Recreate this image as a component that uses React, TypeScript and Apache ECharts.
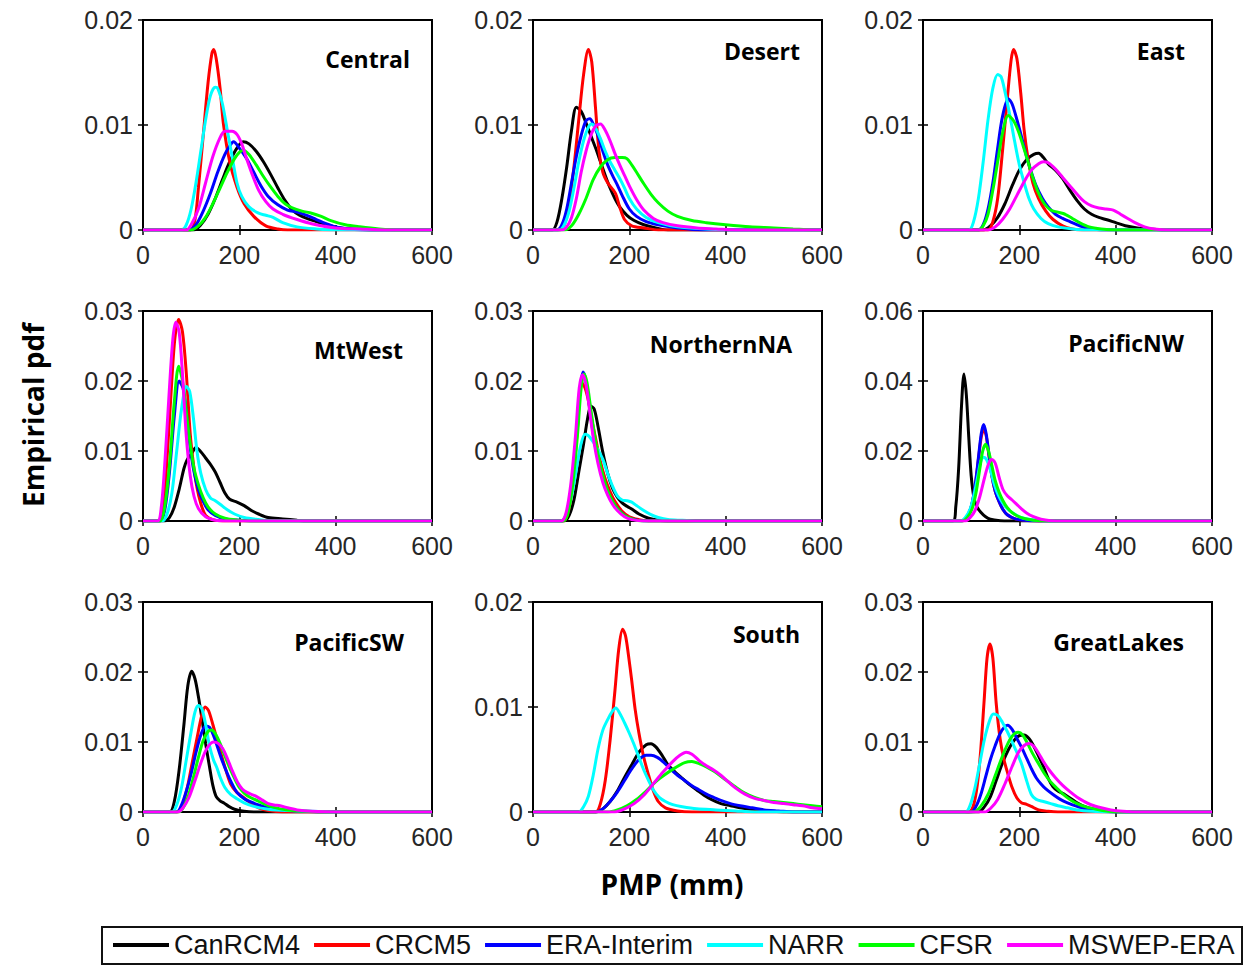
import React, { useEffect, useRef } from "react";
import * as echarts from "echarts";

type Pt = [number, number];

const MODELS = ["CanRCM4", "CRCM5", "ERA-Interim", "NARR", "CFSR", "MSWEP-ERA"];
const COLORS = ["#000000", "#ff0000", "#0000ff", "#00ffff", "#00ff00", "#ff00ff"];
const REGIONS = ["Central", "Desert", "East", "MtWest", "NorthernNA", "PacificNW", "PacificSW", "South", "GreatLakes"];
const Y_MAX = [0.02, 0.02, 0.02, 0.03, 0.03, 0.06, 0.03, 0.02, 0.03];
const Y_STEP = [0.01, 0.01, 0.01, 0.01, 0.01, 0.02, 0.01, 0.01, 0.01];
const X_MIN = 0;
const X_MAX = 600;
const X_STEP = 200;
const X_TITLE = "PMP (mm)";
const Y_TITLE = "Empirical pdf";

// Each region: curves in MODELS order [PMP (mm), pdf]
const central: Pt[][] = [
  [[105,0],[120,0.0005],[135,0.0015],[150,0.003],[165,0.0048],[180,0.0065],[195,0.0078],[208,0.0084],[220,0.0082],[235,0.0075],[250,0.0065],[265,0.0053],[280,0.004],[295,0.0028],[310,0.0019],[325,0.0014],[340,0.0011],[360,0.0008],[380,0.0005],[410,0.0002],[440,0.0001],[470,0]],
  [[98,0],[108,0.001],[115,0.004],[125,0.009],[135,0.014],[143,0.0168],[147,0.0172],[152,0.0163],[160,0.0135],[167,0.0101],[180,0.0065],[195,0.0041],[210,0.0025],[230,0.0013],[255,0.0004],[280,0.0001],[300,0]],
  [[95,0],[110,0.0005],[125,0.0018],[140,0.0035],[155,0.0055],[170,0.0072],[180,0.008],[188,0.0084],[200,0.0078],[215,0.0068],[230,0.0055],[245,0.0042],[260,0.0032],[280,0.0024],[300,0.0019],[320,0.0017],[340,0.0014],[360,0.001],[380,0.0006],[400,0.0003],[430,0.0001],[460,0]],
  [[80,0],[90,0.0005],[100,0.002],[110,0.0045],[120,0.0075],[130,0.0105],[140,0.0128],[150,0.0136],[155,0.0135],[165,0.012],[175,0.0095],[185,0.007],[195,0.0045],[205,0.0032],[220,0.0022],[240,0.0016],[255,0.0014],[270,0.0012],[290,0.0007],[320,0.0003],[360,0.0001],[400,0]],
  [[100,0],[115,0.0004],[130,0.0012],[145,0.0025],[160,0.004],[175,0.0055],[190,0.0068],[200,0.0074],[208,0.0076],[220,0.0072],[235,0.0062],[250,0.0051],[265,0.0041],[280,0.0032],[295,0.0025],[310,0.0021],[330,0.0018],[350,0.0016],[370,0.0013],[390,0.0009],[420,0.0005],[450,0.0003],[490,0.0001],[530,0]],
  [[90,0],[100,0.0005],[115,0.002],[130,0.0045],[145,0.007],[160,0.0088],[170,0.0094],[185,0.0094],[195,0.0091],[205,0.0082],[215,0.0068],[225,0.0055],[240,0.0038],[255,0.0027],[270,0.002],[290,0.0015],[320,0.001],[350,0.0006],[400,0.0002],[450,0.0001],[500,0]],
];

const desert: Pt[][] = [
  [[40,0],[50,0.0008],[60,0.003],[70,0.006],[80,0.0095],[90,0.0117],[100,0.0113],[110,0.0102],[120,0.009],[130,0.0078],[140,0.0065],[150,0.0052],[160,0.004],[170,0.003],[180,0.0022],[195,0.0014],[210,0.0009],[230,0.0005],[255,0.0002],[280,0]],
  [[55,0],[65,0.0005],[75,0.0025],[85,0.006],[95,0.0105],[105,0.0148],[115,0.0172],[122,0.016],[130,0.0115],[137,0.0075],[145,0.0055],[155,0.0045],[165,0.0039],[172,0.0034],[180,0.0022],[190,0.001],[205,0.0004],[230,0.0002],[260,0]],
  [[50,0],[60,0.0005],[70,0.002],[80,0.0045],[90,0.007],[100,0.009],[110,0.0104],[118,0.0106],[125,0.0101],[135,0.009],[145,0.0075],[155,0.0062],[165,0.0052],[175,0.0043],[185,0.0033],[200,0.002],[215,0.0013],[235,0.0008],[260,0.0005],[300,0.0002],[350,0]],
  [[55,0],[65,0.0005],[75,0.0018],[85,0.004],[95,0.0065],[105,0.0085],[115,0.0098],[122,0.0101],[130,0.0097],[140,0.0087],[150,0.0075],[160,0.0065],[170,0.0057],[180,0.0049],[190,0.004],[200,0.003],[215,0.002],[235,0.0012],[260,0.0007],[300,0.0003],[360,0.0001],[420,0]],
  [[65,0],[80,0.0004],[95,0.0015],[110,0.003],[125,0.0048],[140,0.006],[155,0.0067],[170,0.0069],[185,0.0069],[195,0.0068],[205,0.0062],[215,0.0055],[230,0.0044],[245,0.0034],[260,0.0026],[280,0.0018],[300,0.0013],[330,0.0009],[360,0.0007],[400,0.0005],[450,0.0003],[500,0.0002],[540,0.0001],[580,0]],
  [[60,0],[70,0.0003],[80,0.0012],[90,0.003],[100,0.0055],[110,0.0075],[120,0.009],[130,0.0099],[140,0.0101],[150,0.0095],[160,0.0085],[170,0.0073],[180,0.0062],[190,0.0052],[200,0.0042],[215,0.0029],[230,0.0019],[250,0.0011],[270,0.0007],[300,0.0004],[340,0.0002],[380,0.0001],[420,0]],
];

const east: Pt[][] = [
  [[125,0],[140,0.0004],[155,0.0012],[170,0.0025],[185,0.0042],[200,0.0057],[215,0.0067],[230,0.0072],[240,0.0073],[250,0.0069],[260,0.0063],[275,0.0057],[290,0.0049],[305,0.0038],[320,0.0028],[335,0.002],[350,0.0015],[365,0.0012],[380,0.001],[400,0.0007],[420,0.0004],[445,0.0002],[470,0.0001],[500,0]],
  [[135,0],[145,0.0008],[155,0.003],[165,0.0075],[175,0.0125],[183,0.0162],[188,0.0172],[195,0.0163],[203,0.013],[210,0.0095],[218,0.0068],[228,0.0045],[240,0.003],[255,0.0018],[270,0.001],[290,0.0004],[310,0.0001],[330,0]],
  [[115,0],[125,0.0005],[135,0.002],[145,0.0045],[155,0.0078],[165,0.0108],[177,0.0125],[185,0.012],[195,0.0105],[205,0.0088],[215,0.007],[225,0.0055],[235,0.0042],[248,0.003],[260,0.0022],[275,0.0015],[290,0.0011],[305,0.0008],[320,0.0005],[340,0.0002],[370,0]],
  [[95,0],[105,0.0008],[115,0.003],[125,0.0065],[135,0.0105],[145,0.0135],[155,0.0148],[162,0.0146],[170,0.0132],[180,0.011],[190,0.0085],[200,0.0062],[210,0.0045],[220,0.003],[230,0.002],[245,0.0011],[260,0.0006],[280,0.0003],[310,0.0001],[340,0]],
  [[115,0],[125,0.0004],[135,0.0015],[145,0.0038],[155,0.0065],[165,0.0092],[177,0.0109],[188,0.0104],[198,0.0094],[208,0.008],[218,0.0065],[228,0.005],[240,0.0035],[252,0.0025],[265,0.0019],[280,0.0017],[295,0.0015],[310,0.0011],[325,0.0007],[345,0.0003],[370,0.0001],[400,0]],
  [[135,0],[150,0.0003],[165,0.001],[180,0.002],[195,0.0033],[210,0.0046],[225,0.0057],[240,0.0063],[250,0.0065],[260,0.0064],[275,0.0058],[290,0.005],[305,0.0042],[320,0.0034],[335,0.0027],[350,0.0023],[365,0.0021],[380,0.002],[395,0.0019],[410,0.0015],[425,0.0011],[440,0.0007],[460,0.0003],[480,0.0001],[510,0]],
];

const mtWest: Pt[][] = [
  [[45,0],[55,0.0005],[65,0.002],[75,0.0045],[85,0.0075],[92,0.0088],[100,0.0095],[110,0.0105],[120,0.0099],[130,0.009],[140,0.0081],[150,0.007],[160,0.0055],[170,0.004],[180,0.0031],[195,0.0027],[210,0.0022],[225,0.0015],[240,0.001],[260,0.0005],[290,0.0003],[320,0.0001],[340,0]],
  [[35,0],[42,0.002],[50,0.009],[58,0.018],[66,0.026],[74,0.0288],[82,0.027],[90,0.021],[98,0.0125],[105,0.008],[112,0.0048],[120,0.0025],[130,0.0008],[145,0.0002],[165,0]],
  [[35,0],[45,0.0015],[55,0.007],[65,0.015],[75,0.02],[83,0.019],[90,0.0155],[98,0.0105],[106,0.007],[115,0.0045],[125,0.0028],[135,0.0016],[150,0.0008],[170,0.0003],[200,0.0001],[230,0]],
  [[40,0],[50,0.001],[60,0.004],[70,0.01],[80,0.016],[90,0.0192],[97,0.0185],[105,0.0145],[112,0.01],[120,0.0068],[130,0.0045],[140,0.0033],[150,0.0029],[160,0.0024],[175,0.0016],[190,0.001],[210,0.0005],[240,0.0002],[270,0]],
  [[35,0],[45,0.002],[55,0.008],[65,0.017],[74,0.0221],[82,0.02],[90,0.0155],[98,0.011],[106,0.0075],[115,0.0052],[125,0.0033],[135,0.002],[150,0.001],[170,0.0004],[200,0.0001],[220,0]],
  [[30,0],[38,0.002],[46,0.009],[54,0.018],[62,0.026],[68,0.0284],[75,0.027],[82,0.021],[90,0.012],[98,0.0065],[106,0.0035],[115,0.0018],[130,0.0006],[150,0.0001],[170,0]],
];

const northernNA: Pt[][] = [
  [[65,0],[75,0.0008],[85,0.003],[95,0.007],[105,0.011],[113,0.0145],[120,0.0164],[127,0.016],[135,0.0135],[145,0.0098],[155,0.0068],[165,0.0047],[175,0.0034],[185,0.0026],[195,0.0021],[205,0.0017],[220,0.001],[240,0.0004],[260,0.0001],[280,0]],
  [[62,0],[72,0.001],[82,0.005],[92,0.013],[101,0.0198],[108,0.019],[115,0.0172],[122,0.0145],[130,0.0118],[140,0.0085],[150,0.006],[160,0.0042],[170,0.0028],[185,0.0014],[200,0.0006],[220,0.0002],[240,0]],
  [[60,0],[70,0.001],[80,0.005],[90,0.012],[98,0.019],[104,0.0213],[110,0.02],[118,0.016],[126,0.012],[135,0.0088],[145,0.0062],[155,0.0042],[165,0.0028],[175,0.0018],[190,0.0008],[205,0.0003],[230,0]],
  [[58,0],[68,0.0008],[78,0.003],[88,0.0065],[98,0.0105],[108,0.0124],[115,0.0122],[125,0.0113],[135,0.0102],[145,0.0088],[155,0.0068],[165,0.005],[175,0.0036],[185,0.003],[195,0.0029],[205,0.0027],[215,0.0022],[230,0.0015],[245,0.0009],[260,0.0005],[280,0.0002],[310,0.0001],[340,0]],
  [[62,0],[72,0.001],[82,0.005],[92,0.012],[100,0.019],[106,0.021],[112,0.0198],[120,0.016],[128,0.0122],[137,0.0088],[147,0.006],[157,0.004],[167,0.0026],[177,0.0016],[190,0.0008],[205,0.0003],[225,0]],
  [[58,0],[68,0.001],[78,0.005],[88,0.012],[96,0.019],[103,0.0209],[110,0.0195],[118,0.0155],[126,0.0115],[135,0.0082],[145,0.0055],[155,0.0037],[165,0.0024],[175,0.0015],[190,0.0006],[205,0.0002],[230,0]],
];

const pacificNW: Pt[][] = [
  [[62,0],[68,0.004],[74,0.015],[80,0.033],[85,0.042],[90,0.036],[95,0.024],[100,0.013],[106,0.0065],[112,0.004],[120,0.0025],[130,0.0012],[140,0.0005],[160,0.0001],[180,0]],
  [[80,0],[90,0.001],[100,0.004],[108,0.0095],[115,0.0175],[121,0.024],[126,0.026],[131,0.0245],[137,0.0185],[143,0.0128],[150,0.0085],[158,0.0055],[166,0.0033],[175,0.0018],[190,0.0007],[210,0.0002],[240,0]],
  [[80,0],[90,0.001],[100,0.004],[108,0.01],[115,0.018],[121,0.025],[126,0.0276],[131,0.025],[137,0.019],[143,0.013],[150,0.0085],[158,0.0055],[166,0.0033],[175,0.0018],[190,0.0007],[210,0.0002],[240,0]],
  [[78,0],[88,0.001],[98,0.0035],[106,0.0075],[114,0.013],[120,0.017],[126,0.0182],[132,0.0175],[140,0.0145],[148,0.0105],[156,0.0075],[165,0.0052],[175,0.0035],[185,0.0024],[200,0.0012],[220,0.0005],[250,0.0001],[280,0]],
  [[82,0],[92,0.001],[102,0.0035],[110,0.008],[118,0.015],[124,0.02],[130,0.0219],[136,0.02],[143,0.0158],[150,0.0115],[158,0.0082],[166,0.0058],[175,0.0038],[185,0.0024],[195,0.0015],[210,0.0007],[230,0.0002],[260,0]],
  [[88,0],[98,0.001],[108,0.003],[118,0.007],[128,0.0125],[136,0.0163],[143,0.0176],[150,0.0165],[158,0.0125],[166,0.009],[175,0.0072],[185,0.006],[195,0.0047],[205,0.0034],[215,0.0023],[228,0.0013],[245,0.0005],[265,0.0001],[290,0]],
];

const pacificSW: Pt[][] = [
  [[55,0],[65,0.0015],[75,0.006],[85,0.0125],[93,0.018],[101,0.0201],[108,0.019],[115,0.0165],[122,0.0135],[130,0.0098],[138,0.0065],[145,0.0038],[152,0.0022],[160,0.0016],[168,0.0013],[178,0.0008],[190,0.0004],[210,0.0001],[230,0]],
  [[72,0],[82,0.001],[92,0.0035],[102,0.007],[112,0.0105],[122,0.0138],[129,0.015],[136,0.0145],[145,0.0125],[153,0.0105],[162,0.0083],[172,0.006],[182,0.004],[195,0.0028],[210,0.002],[225,0.0012],[240,0.0006],[260,0.0002],[290,0]],
  [[70,0],[80,0.001],[90,0.003],[100,0.0055],[110,0.0085],[120,0.011],[130,0.0123],[138,0.0121],[146,0.011],[155,0.0092],[165,0.0072],[175,0.0055],[185,0.004],[195,0.0028],[210,0.0019],[225,0.0014],[240,0.001],[260,0.0006],[290,0.0003],[330,0.0001],[370,0]],
  [[60,0],[70,0.001],[80,0.0035],[90,0.0075],[100,0.0115],[108,0.0143],[115,0.0152],[122,0.0148],[130,0.0125],[138,0.0095],[146,0.0075],[153,0.0064],[160,0.005],[170,0.0035],[182,0.0025],[195,0.0019],[210,0.0013],[230,0.0008],[260,0.0004],[300,0.0002],[350,0.0001],[400,0]],
  [[75,0],[85,0.0008],[95,0.0025],[105,0.005],[115,0.0078],[125,0.0102],[135,0.0115],[142,0.0117],[150,0.0112],[160,0.0098],[170,0.008],[180,0.0063],[190,0.0048],[200,0.0035],[210,0.0027],[222,0.0021],[235,0.0017],[250,0.0012],[270,0.0007],[300,0.0003],[340,0.0001],[380,0]],
  [[72,0],[82,0.0005],[95,0.002],[108,0.0045],[120,0.007],[132,0.009],[146,0.01],[156,0.0098],[166,0.009],[176,0.0075],[186,0.0058],[196,0.0043],[206,0.0033],[216,0.0028],[226,0.0025],[236,0.0022],[248,0.0017],[260,0.0012],[272,0.001],[285,0.0009],[300,0.0006],[320,0.0003],[350,0.0001],[400,0]],
];

const south: Pt[][] = [
  [[130,0],[145,0.0003],[160,0.001],[175,0.002],[190,0.0033],[205,0.0045],[220,0.0057],[235,0.0064],[245,0.0065],[255,0.0062],[268,0.0054],[280,0.0045],[295,0.0038],[310,0.0032],[325,0.0026],[340,0.0021],[355,0.0016],[370,0.0012],[390,0.0008],[410,0.0006],[430,0.0004],[460,0.0002],[490,0.0001],[520,0]],
  [[130,0],[140,0.0008],[150,0.003],[160,0.0068],[170,0.0115],[178,0.0155],[186,0.0174],[192,0.0168],[198,0.015],[205,0.0125],[212,0.0098],[220,0.0075],[230,0.0052],[240,0.0035],[250,0.002],[260,0.001],[275,0.0004],[300,0.0001],[330,0]],
  [[130,0],[145,0.0003],[160,0.001],[175,0.0019],[190,0.003],[205,0.0041],[220,0.005],[235,0.0054],[245,0.0054],[258,0.0052],[272,0.0047],[285,0.0041],[300,0.0035],[315,0.003],[330,0.0025],[345,0.0021],[360,0.0017],[375,0.0014],[390,0.0011],[410,0.0008],[430,0.0006],[455,0.0004],[480,0.0002],[510,0.0001],[540,0]],
  [[95,0],[105,0.0005],[115,0.0015],[125,0.0035],[135,0.006],[145,0.0078],[155,0.0088],[165,0.0096],[172,0.0099],[180,0.0094],[190,0.0085],[200,0.0075],[210,0.0064],[220,0.0052],[230,0.004],[240,0.003],[250,0.0021],[262,0.0014],[275,0.001],[290,0.0007],[310,0.0005],[340,0.0003],[380,0.0002],[420,0.0001],[460,0]],
  [[155,0],[175,0.0002],[195,0.0006],[215,0.0012],[235,0.002],[255,0.0029],[275,0.0036],[295,0.0042],[315,0.0047],[330,0.0048],[345,0.0046],[360,0.0043],[375,0.0039],[390,0.0034],[405,0.0029],[420,0.0024],[440,0.0018],[460,0.0014],[480,0.0011],[500,0.001],[520,0.0009],[540,0.0008],[560,0.0007],[580,0.0006],[600,0.0005]],
  [[170,0],[190,0.0003],[210,0.0008],[230,0.0016],[250,0.0027],[270,0.0038],[290,0.0048],[305,0.0054],[318,0.0057],[330,0.0055],[345,0.0049],[360,0.0044],[375,0.004],[390,0.0035],[405,0.0029],[420,0.0023],[440,0.0017],[460,0.0013],[480,0.0011],[500,0.0009],[520,0.0008],[540,0.0007],[560,0.0006],[580,0.0004],[600,0.0003]],
];

const greatLakes: Pt[][] = [
  [[115,0],[128,0.0008],[140,0.0022],[152,0.0045],[165,0.007],[178,0.009],[190,0.0103],[200,0.0109],[210,0.011],[220,0.0105],[230,0.0094],[240,0.008],[250,0.0065],[260,0.0048],[270,0.0036],[280,0.003],[292,0.0026],[305,0.002],[318,0.0014],[335,0.0008],[355,0.0004],[380,0.0001],[400,0]],
  [[95,0],[105,0.001],[113,0.004],[120,0.009],[127,0.016],[133,0.022],[139,0.024],[145,0.022],[152,0.0155],[160,0.0105],[168,0.0075],[176,0.0055],[185,0.0035],[195,0.002],[205,0.0013],[215,0.0011],[225,0.0008],[240,0.0003],[260,0.0001],[280,0]],
  [[100,0],[110,0.0008],[120,0.0025],[130,0.005],[140,0.0075],[150,0.0095],[160,0.0112],[170,0.0122],[176,0.0124],[185,0.0118],[195,0.0105],[205,0.0092],[215,0.0077],[225,0.0062],[235,0.0049],[245,0.004],[255,0.0033],[270,0.0025],[285,0.0018],[300,0.0013],[320,0.0008],[340,0.0004],[370,0.0001],[400,0]],
  [[88,0],[98,0.001],[108,0.0035],[118,0.007],[128,0.0105],[138,0.013],[146,0.014],[155,0.0138],[165,0.0128],[175,0.0115],[185,0.01],[195,0.0085],[205,0.0068],[215,0.0045],[225,0.0025],[235,0.0018],[250,0.0015],[265,0.0012],[280,0.0009],[300,0.0006],[320,0.0003],[350,0.0001],[380,0]],
  [[105,0],[120,0.0008],[135,0.0025],[150,0.0052],[165,0.008],[180,0.0103],[190,0.0112],[198,0.0114],[207,0.011],[217,0.0098],[228,0.0083],[240,0.0069],[252,0.0055],[265,0.0043],[278,0.0034],[290,0.0026],[305,0.0018],[320,0.0012],[340,0.0007],[360,0.0004],[385,0.0001],[410,0]],
  [[128,0],[140,0.0005],[155,0.0018],[170,0.004],[185,0.0065],[198,0.0085],[210,0.0095],[220,0.0098],[230,0.0094],[240,0.0084],[250,0.0072],[262,0.006],[275,0.0049],[290,0.0038],[305,0.0029],[320,0.0021],[335,0.0015],[350,0.001],[370,0.0006],[390,0.0003],[415,0.0001],[440,0]],
];

const REGION_CURVES: Pt[][][] = [central, desert, east, mtWest, northernNA, pacificNW, pacificSW, south, greatLakes];

// ---- layout (pixels) ----
const COL_LEFT = [143, 533, 923];
const ROW_TOP = [20, 311, 602];
const PW = 289;
const PH = 210;
const TITLE_RIGHT = [410, 800, 1185, 403, 792, 1184, 404, 800, 1184];
const TITLE_CY = [59, 51, 51, 350, 344, 343, 642, 634, 642];

const TICK_FONT = "'Liberation Sans', Arial, Helvetica, sans-serif";
const BOLD_FONT = "'Open Sans', 'Noto Sans', sans-serif";

function withEnds(pts: Pt[]): Pt[] {
  const out = pts.slice();
  if (out.length && out[0][0] > X_MIN) out.unshift([X_MIN, 0]);
  if (out.length && out[out.length - 1][0] < X_MAX) out.push([X_MAX, 0]);
  return out;
}

function fmtY(v: number): string {
  if (Math.abs(v) < 1e-12) return "0";
  return String(parseFloat(v.toFixed(4)));
}

function buildOption() {
  const grid: any[] = [];
  const xAxis: any[] = [];
  const yAxis: any[] = [];
  const series: any[] = [];
  const graphic: any[] = [];

  REGIONS.forEach((region, i) => {
    const col = i % 3;
    const row = Math.floor(i / 3);
    grid.push({
      left: COL_LEFT[col],
      top: ROW_TOP[row],
      width: PW,
      height: PH,
      show: true,
      borderColor: "#000",
      borderWidth: 2,
      backgroundColor: "#fff",
      containLabel: false,
    });
    const tick = { show: true, inside: true, length: 5, lineStyle: { color: "#000", width: 1.5 } };
    xAxis.push({
      type: "value",
      gridIndex: i,
      position: "bottom",
      min: X_MIN,
      max: X_MAX,
      interval: X_STEP,
      axisLine: { show: false },
      axisTick: tick,
      splitLine: { show: false },
      axisLabel: { show: true, margin: 12, fontSize: 25, fontFamily: TICK_FONT, color: "#262626" },
    });
    xAxis.push({
      type: "value",
      gridIndex: i,
      position: "top",
      min: X_MIN,
      max: X_MAX,
      interval: X_STEP,
      axisLine: { show: false },
      axisTick: tick,
      splitLine: { show: false },
      axisLabel: { show: false },
    });
    yAxis.push({
      type: "value",
      gridIndex: i,
      position: "left",
      min: 0,
      max: Y_MAX[i],
      interval: Y_STEP[i],
      axisLine: { show: false },
      axisTick: tick,
      splitLine: { show: false },
      axisLabel: { show: true, margin: 10, fontSize: 25, fontFamily: TICK_FONT, color: "#262626", formatter: fmtY },
    });
    yAxis.push({
      type: "value",
      gridIndex: i,
      position: "right",
      min: 0,
      max: Y_MAX[i],
      interval: Y_STEP[i],
      axisLine: { show: false },
      axisTick: tick,
      splitLine: { show: false },
      axisLabel: { show: false },
    });

    REGION_CURVES[i].forEach((pts, m) => {
      series.push({
        type: "line",
        name: MODELS[m],
        xAxisIndex: 2 * i,
        yAxisIndex: 2 * i,
        data: withEnds(pts),
        showSymbol: false,
        symbol: "none",
        smooth: 0.3,
        clip: true,
        lineStyle: { color: COLORS[m], width: 3 },
        itemStyle: { color: COLORS[m] },
        z: 2 + m,
      });
    });

    graphic.push({
      type: "text",
      x: TITLE_RIGHT[i],
      y: TITLE_CY[i],
      z: 100,
      style: {
        text: region,
        fill: "#000",
        font: `bold 23px ${BOLD_FONT}`,
        align: "right",
        verticalAlign: "middle",
      },
    });
  });

  graphic.push({
    type: "text",
    x: 33,
    y: 415,
    rotation: Math.PI / 2,
    style: {
      text: Y_TITLE,
      fill: "#000",
      font: `bold 28px ${BOLD_FONT}`,
      align: "center",
      verticalAlign: "middle",
    },
  });
  graphic.push({
    type: "text",
    x: 672,
    y: 884,
    style: {
      text: X_TITLE,
      fill: "#000",
      font: `bold 28px ${BOLD_FONT}`,
      align: "center",
      verticalAlign: "middle",
    },
  });
  graphic.push({
    type: "rect",
    shape: { x: 102, y: 927, width: 1140, height: 37 },
    style: { fill: "#fff", stroke: "#111", lineWidth: 2 },
    z: -1,
  });

  return {
    animation: false,
    backgroundColor: "#fff",
    grid,
    xAxis,
    yAxis,
    series,
    graphic,
    legend: {
      show: true,
      data: MODELS.map((name, m) => ({ name, itemStyle: { color: COLORS[m] } })),
      left: 113,
      top: 928,
      width: 1200,
      padding: 0,
      orient: "horizontal",
      icon: "rect",
      itemWidth: 56,
      itemHeight: 4,
      itemGap: 14,
      selectedMode: false,
      textStyle: { fontSize: 27, fontFamily: TICK_FONT, color: "#111", lineHeight: 34 },
      z: 10,
    },
  };
}

export default function App() {
  const ref = useRef<HTMLDivElement | null>(null);
  useEffect(() => {
    if (!ref.current) return;
    const chart = echarts.init(ref.current, undefined, { renderer: "svg" });
    chart.setOption(buildOption() as any);
    return () => chart.dispose();
  }, []);
  return (
    <div
      ref={ref}
      style={{ position: "fixed", left: 0, top: 0, width: 1247, height: 967, background: "#fff" }}
    />
  );
}
